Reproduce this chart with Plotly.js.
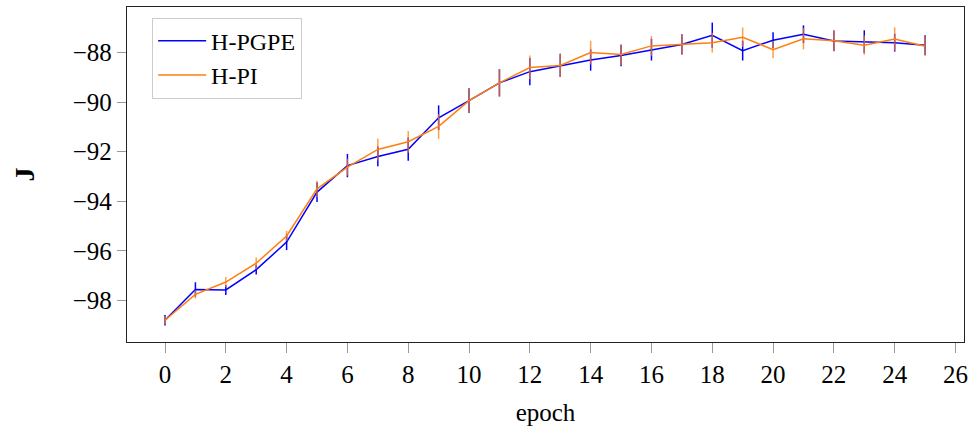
<!DOCTYPE html>
<html>
<head>
<meta charset="utf-8">
<script src="https://cdn.plot.ly/plotly-3.0.1.min.js"></script>
<style>html,body{margin:0;padding:0;background:#fff;}#chart{width:977px;height:435px;}</style>
</head>
<body>
<div id="chart"></div>
<script>
const epochs = [0,1,2,3,4,5,6,7,8,9,10,11,12,13,14,15,16,17,18,19,20,21,22,23,24,25];
const pgpe = [-98.8,-97.56,-97.58,-96.76,-95.65,-93.63,-92.56,-92.19,-91.9,-90.63,-89.94,-89.22,-88.77,-88.52,-88.3,-88.12,-87.88,-87.67,-87.3,-87.92,-87.5,-87.26,-87.53,-87.56,-87.6,-87.7];
const pgpeErr = [0.21,0.29,0.2,0.2,0.32,0.4,0.47,0.4,0.47,0.5,0.5,0.55,0.55,0.47,0.43,0.43,0.44,0.41,0.51,0.4,0.32,0.36,0.42,0.46,0.36,0.4];
const pi = [-98.8,-97.76,-97.26,-96.5,-95.4,-93.5,-92.62,-91.91,-91.6,-90.98,-89.94,-89.22,-88.6,-88.52,-88.0,-88.08,-87.73,-87.68,-87.6,-87.38,-87.88,-87.44,-87.52,-87.7,-87.45,-87.74];
const piErr = [0.16,0.17,0.2,0.23,0.2,0.33,0.34,0.44,0.44,0.5,0.5,0.55,0.48,0.47,0.48,0.43,0.4,0.41,0.4,0.39,0.35,0.43,0.42,0.39,0.47,0.4];
const xTicks = [0,2,4,6,8,10,12,14,16,18,20,22,24,26];
const yTicks = [-98,-96,-94,-92,-90,-88];
const yTickLabels = ['\u221298','\u221296','\u221294','\u221292','\u221290','\u221288'];

function f(size) { return {family: 'Liberation Serif, serif', size: size, color: '#000'}; }

const traces = [
  {x: epochs, y: pgpe, name: 'H-PGPE', mode: 'lines', type: 'scatter',
   line: {color: '#0000ff', width: 1.5},
   error_y: {type: 'data', array: pgpeErr, visible: true, color: '#0000ff', thickness: 1.5, width: 0}},
  {x: epochs, y: pi, name: 'H-PI', mode: 'lines', type: 'scatter',
   line: {color: '#ff7f0e', width: 1.5},
   error_y: {type: 'data', array: piErr, visible: true, color: 'rgba(255,127,14,0.75)', thickness: 1.5, width: 0}}
];

const layout = {
  width: 977, height: 435,
  margin: {l: 127, r: 13, t: 7, b: 93},
  paper_bgcolor: '#fff', plot_bgcolor: '#fff',
  font: f(25),
  showlegend: true,
  legend: {x: 0.03, y: 0.968, xanchor: 'left', yanchor: 'top',
    bordercolor: '#cccccc', borderwidth: 1, bgcolor: '#fff',
    font: f(24), itemwidth: 48, tracegroupgap: 0},
  xaxis: {range: [-1.25, 26.28], tickmode: 'array', tickvals: xTicks,
    ticks: 'outside', ticklen: 10, tickcolor: '#999', tickwidth: 1,
    showgrid: false, zeroline: false, showline: true, linecolor: '#222', linewidth: 1.2, mirror: true,
    tickfont: f(25), title: {text: 'epoch', font: f(25), standoff: 16}},
  yaxis: {range: [-99.68, -86.16], tickmode: 'array', tickvals: yTicks, ticktext: yTickLabels,
    ticks: 'outside', ticklen: 9, tickcolor: '#999', tickwidth: 1,
    showgrid: false, zeroline: false, showline: true, linecolor: '#222', linewidth: 1.2, mirror: true,
    tickfont: f(25), title: {text: '<b>J</b>', font: f(28), standoff: 29}}
};

Plotly.newPlot('chart', traces, layout, {displayModeBar: false, staticPlot: true});
</script>
</body>
</html>
